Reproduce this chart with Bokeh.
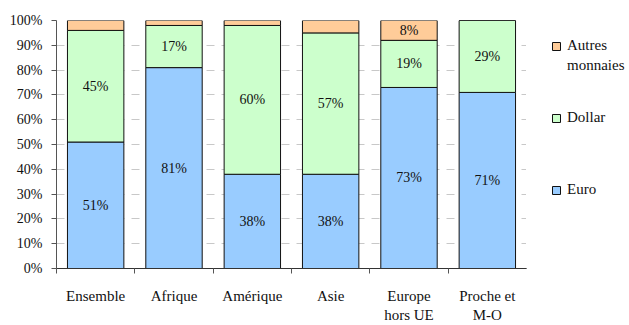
from bokeh.plotting import figure
from bokeh.layouts import row
from bokeh.models import (ColumnDataSource, Range1d, FixedTicker, PrintfTickFormatter,
                          Legend, LegendItem)
from bokeh.embed import file_html
from bokeh.resources import INLINE

# Share of each currency by region (%)
categories = ["Ensemble", "Afrique", "Amérique", "Asie", "Europe\nhors UE", "Proche et\nM-O"]
euro = [51, 81, 38, 38, 73, 71]
dollar = [45, 17, 60, 57, 19, 29]
autres = [4, 2, 2, 5, 8, 0]

series = ["euro", "dollar", "autres"]
series_names = ["Euro", "Dollar", "Autres monnaies"]
colors = ["#99CCFF", "#CCFFCC", "#FFCC99"]
y_ticks = list(range(0, 101, 10))

FONT = "Liberation Serif"
EDGE = "#111111"

xs = [i + 0.5 for i in range(len(categories))]
source = ColumnDataSource(dict(x=xs, euro=euro, dollar=dollar, autres=autres))

p = figure(width=526, height=325, output_backend="svg", toolbar_location=None,
           x_range=Range1d(0, len(categories)), y_range=Range1d(0, 100),
           min_border_left=56, min_border_right=0, min_border_top=20,
           min_border_bottom=51)
p.outline_line_color = None

p.vbar_stack(series, x="x", width=0.72, source=source, color=colors,
             line_color=EDGE, line_width=1)

# Value labels in the middle of each segment (small segments left unlabelled)
lx, ly, lt = [], [], []
for i, x in enumerate(xs):
    base = 0
    for vals in (euro, dollar, autres):
        v = vals[i]
        if v >= 8:
            lx.append(x)
            ly.append(base + v / 2)
            lt.append(f"{v}%")
        base += v
p.text(x=lx, y=ly, text=lt, text_align="center", text_baseline="middle",
       text_font=FONT, text_font_size="14px", text_color=EDGE)

# Axes
p.yaxis.ticker = FixedTicker(ticks=y_ticks)
p.yaxis.formatter = PrintfTickFormatter(format="%d%%")
p.yaxis.major_tick_out = 5
p.yaxis.major_tick_in = 0
p.yaxis.minor_tick_line_color = None
p.yaxis.major_label_standoff = 9
p.yaxis.major_label_text_font = FONT
p.yaxis.major_label_text_font_size = "14px"
p.yaxis.major_label_text_color = EDGE
p.yaxis.axis_line_color = "#555555"
p.yaxis.major_tick_line_color = "#555555"

p.xaxis.ticker = FixedTicker(ticks=xs, minor_ticks=list(range(len(categories) + 1)))
p.xaxis.major_label_overrides = {x: c for x, c in zip(xs, categories)}
p.xaxis.major_tick_in = 0
p.xaxis.major_tick_out = 0
p.xaxis.minor_tick_in = 0
p.xaxis.minor_tick_out = 5
p.xaxis.major_label_standoff = 14
p.xaxis.major_label_text_font = FONT
p.xaxis.major_label_text_font_size = "15px"
p.xaxis.major_label_text_color = EDGE
p.xaxis.axis_line_color = "#333333"
p.xaxis.minor_tick_line_color = "#555555"

p.xgrid.grid_line_color = None
p.ygrid.ticker = FixedTicker(ticks=y_ticks)
p.ygrid.grid_line_color = "#c8c8c8"
p.ygrid.grid_line_dash = "8 7"

# Legend panel to the right of the bars
lp = figure(width=103, height=325, output_backend="svg", toolbar_location=None,
            x_range=Range1d(0, 1), y_range=Range1d(0, 1), min_border=0)
lp.axis.visible = False
lp.grid.visible = False
lp.outline_line_color = None


def add_entry(label, y, fill, line):
    # swatch source kept outside the visible range; only the legend shows it
    r = lp.vbar(x=[-5], top=[0], width=0.5, fill_color=fill, line_color=line)
    lp.add_layout(Legend(items=[LegendItem(label=label, renderers=[r])],
                         location=(25, y), padding=0, margin=0,
                         border_line_color=None, background_fill_alpha=0,
                         glyph_width=10, glyph_height=10, label_standoff=6,
                         label_text_font=FONT, label_text_font_size="15px",
                         label_text_color=EDGE))


legend_y = {"autres": 214, "dollar": 142, "euro": 70}
for key, name, col in zip(series, series_names, colors):
    words = name.split(" ")
    add_entry(words[0], legend_y[key], col, EDGE)
    # continuation line of a two-word entry, without its own swatch
    for k, word in enumerate(words[1:], start=1):
        add_entry(word, legend_y[key] - 20 * k, None, None)

layout = row(p, lp)
open("out.html", "w").write(file_html(layout, INLINE))
